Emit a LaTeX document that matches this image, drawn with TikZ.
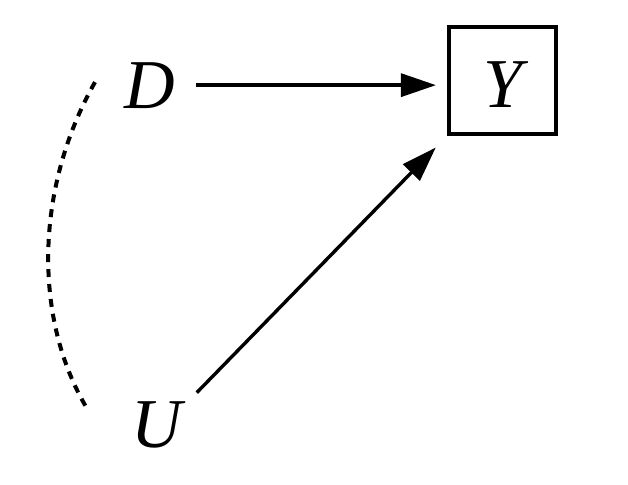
\documentclass[tikz,border=0pt]{standalone}
\usepackage{fontspec}
\setmainfont{Liberation Serif}
\usetikzlibrary{arrows.meta}
\begin{document}
\begin{tikzpicture}[x=1pt,y=-1pt,
  lbl/.style={inner sep=0pt,outer sep=0pt,font=\fontsize{70pt}{70pt}\selectfont\itshape},
  ybox/.style={draw,line width=3.6pt,minimum width=107.5pt,minimum height=107.5pt,inner sep=0pt,
    font=\fontsize{70pt}{70pt}\selectfont\itshape},
  arr/.style={line width=3.4pt,-{Triangle[length=35pt,width=23pt]}},
  dashcurve/.style={line width=4pt,dash pattern=on 8pt off 7pt}]
\useasboundingbox (0,0) rectangle (628,484);
\node[lbl,anchor=base] (D) at (150,108) {D};
\node[lbl,anchor=base] (U) at (157,447) {U};
\node[ybox] (Y) at (502.5,80.5) {\raisebox{-27.5pt}[0pt][0pt]{Y}};
\draw[arr,shorten <=46pt,shorten >=11pt] (D.center) -- (D.center -| Y.west);
\draw[arr,shorten <=57pt,shorten >=16pt] ([yshift=-9pt]U.center) -- (Y.south west);
\draw[dashcurve] ([shift={(-55,-3)}]D.center) .. controls (34,190) and (34,320) .. ([shift={(-70,-16)}]U.center);
\end{tikzpicture}
\end{document}
